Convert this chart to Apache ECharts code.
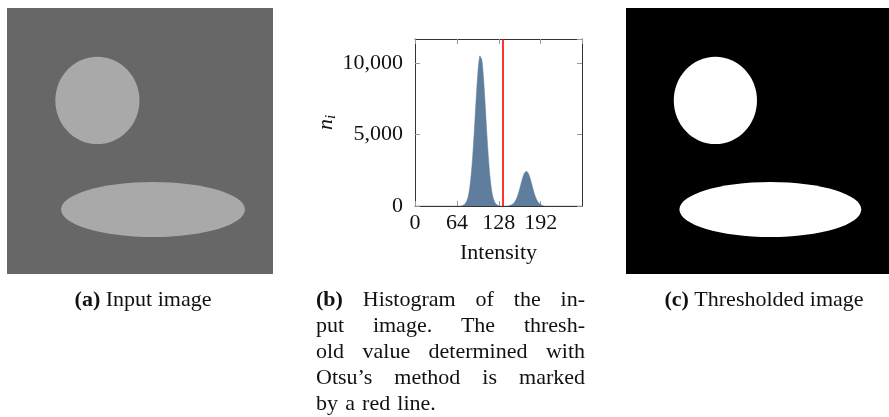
<!DOCTYPE html>
<html>
<head>
<meta charset="utf-8">
<script src="https://cdn.jsdelivr.net/npm/echarts@6/dist/echarts.min.js"></script>
<style>
  html, body { margin: 0; padding: 0; background: #fff; }
  #main { width: 889px; height: 417px; }
</style>
</head>
<body>
<div id="main"></div>
<script>
// ---- data ----
// histogram (b): counts n_i per intensity, zero outside the two peaks
var peakLowStart = 72;
var peakLowCounts = [20, 40, 50, 80, 120, 170, 240, 340, 470, 630, 840, 1110, 1430, 1830, 2290,
  2830, 3440, 4120, 4850, 5630, 6430, 7230, 8000, 8720, 9350, 9880, 10270, 10520, 10600,
  10520, 10270, 9880, 9350, 8720, 8000, 7230, 6430, 5630, 4850, 4120, 3440, 2830, 2290,
  1830, 1430, 1110, 840, 630, 470, 340, 240, 170, 120, 80, 50, 40, 20];
var peakHighStart = 144;
var peakHighCounts = [20, 30, 50, 60, 90, 120, 150, 200, 260, 330, 420, 520, 630, 760, 900,
  1060, 1230, 1400, 1570, 1750, 1910, 2060, 2190, 2300, 2380, 2430, 2450, 2430, 2380, 2300,
  2190, 2060, 1910, 1750, 1570, 1400, 1230, 1060, 900, 760, 630, 520, 420, 330, 260, 200,
  150, 120, 90, 60, 50, 30, 20];
var otsuThreshold = 134;
var xTicks = [0, 64, 128, 192];
var yTicks = [0, 5000, 10000];

// images (a) and (c): shapes in image pixel coordinates (512 x 512)
var shapeCx = [174, 281];
var shapeCy = [178, 388];
var shapeRx = [81, 177];
var shapeRy = [84, 53];

var captionA = ['(a)', 'Input image'];
var captionC = ['(c)', 'Thresholded image'];
var captionB = [
  ['(b)', 'Histogram', 'of', 'the', 'in-'],
  ['put', 'image.', 'The', 'thresh-'],
  ['old', 'value', 'determined', 'with'],
  ['Otsu\u2019s', 'method', 'is', 'marked'],
  ['by', 'a', 'red', 'line.']
];

var FONT = '"Liberation Serif", "DejaVu Serif", serif';
var FS = 22;

var histData = [];
for (var i = 0; i <= 255; i++) {
  var v = 0;
  if (i >= peakLowStart && i < peakLowStart + peakLowCounts.length) v = peakLowCounts[i - peakLowStart];
  if (i >= peakHighStart && i < peakHighStart + peakHighCounts.length) v = peakHighCounts[i - peakHighStart];
  histData.push([i, v]);
}

var shapeData = shapeCx.map(function (cx, k) {
  return [cx, shapeCy[k], shapeRx[k], shapeRy[k]];
});

function renderShape(fill) {
  return function (params, api) {
    var c = api.coord([api.value(0), api.value(1)]);
    var s = api.size([api.value(2), api.value(3)]);
    return {
      type: 'ellipse',
      shape: { cx: c[0], cy: c[1], rx: Math.abs(s[0]), ry: Math.abs(s[1]) },
      style: { fill: fill }
    };
  };
}

// captions
var ctx = document.createElement('canvas').getContext('2d');
function textWidth(t, bold) {
  ctx.font = (bold ? 'bold ' : '') + FS + 'px ' + FONT;
  return ctx.measureText(t).width;
}

var graphics = [];
function simpleCaption(parts, cx, y) {
  graphics.push({
    type: 'text', x: cx, y: y, silent: true,
    style: {
      text: '{b|' + parts[0] + '}{t| ' + parts[1] + '}',
      rich: {
        b: { fontFamily: FONT, fontSize: FS, fontWeight: 'bold', fill: '#111' },
        t: { fontFamily: FONT, fontSize: FS, fill: '#111' }
      },
      fontFamily: FONT, fontSize: FS, fill: '#111',
      align: 'center', verticalAlign: 'middle'
    }
  });
}
simpleCaption(captionA, 143, 300);
simpleCaption(captionC, 764, 300);

var colLeft = 316, colWidth = 269, lineY0 = 300, lineStep = 26;
captionB.forEach(function (words, li) {
  var widths = words.map(function (w, wi) { return textWidth(w, li === 0 && wi === 0); });
  var total = widths.reduce(function (a, b) { return a + b; }, 0);
  var last = li === captionB.length - 1;
  var gap = last ? textWidth(' ') * 1.3 : (colWidth - total) / (words.length - 1);
  var x = colLeft;
  words.forEach(function (w, wi) {
    graphics.push({
      type: 'text', x: x, y: lineY0 + li * lineStep, silent: true,
      style: {
        text: w, fontFamily: FONT, fontSize: FS,
        fontWeight: (li === 0 && wi === 0) ? 'bold' : 'normal',
        fill: '#111', align: 'left', verticalAlign: 'middle'
      }
    });
    x += widths[wi] + gap;
  });
});

var chart = echarts.init(document.getElementById('main'));
var hiddenAxis = { show: false, type: 'value', min: 0, max: 512 };
var boxLine = { show: true, onZero: false, lineStyle: { color: '#333', width: 1 } };
var boxTick = { show: true, inside: true, length: 5, lineStyle: { color: '#999' } };
var option = {
  animation: false,
  backgroundColor: '#fff',
  grid: [
    { left: 7, top: 8, width: 266, height: 266, show: true, backgroundColor: '#676767', borderWidth: 0 },
    { left: 415, top: 39, width: 167, height: 167 },
    { left: 626, top: 8, width: 266, height: 266, show: true, backgroundColor: '#000', borderWidth: 0 }
  ],
  xAxis: [
    Object.assign({ gridIndex: 0 }, hiddenAxis),
    {
      gridIndex: 1, type: 'value', position: 'bottom', min: 0, max: 255, interval: 64,
      name: 'Intensity', nameLocation: 'middle', nameGap: 36,
      nameTextStyle: { fontFamily: FONT, fontSize: FS, color: '#111' },
      axisLine: boxLine, axisTick: boxTick,
      axisLabel: {
        fontFamily: FONT, fontSize: FS, color: '#111', margin: 6, showMaxLabel: false,
        formatter: function (v) { return xTicks.indexOf(v) >= 0 ? String(v) : ''; }
      },
      splitLine: { show: false }
    },
    {
      gridIndex: 1, type: 'value', position: 'top', min: 0, max: 255, interval: 64,
      axisLine: boxLine, axisTick: boxTick,
      axisLabel: { show: false }, splitLine: { show: false }
    },
    Object.assign({ gridIndex: 2 }, hiddenAxis)
  ],
  yAxis: [
    Object.assign({ gridIndex: 0, inverse: true }, hiddenAxis),
    {
      gridIndex: 1, type: 'value', position: 'left', min: 0, max: 11700, interval: 5000,
      name: '{n|n}{i|i}', nameLocation: 'middle', nameGap: 70, nameRotate: 90,
      nameTextStyle: {
        rich: {
          n: { fontFamily: FONT, fontSize: FS, fontStyle: 'italic', color: '#111', lineHeight: 24, verticalAlign: 'middle' },
          i: { fontFamily: FONT, fontSize: 15, fontStyle: 'italic', color: '#111', lineHeight: 24, verticalAlign: 'bottom', padding: [8, 0, 0, 0] }
        }
      },
      axisLine: boxLine, axisTick: boxTick,
      axisLabel: {
        fontFamily: FONT, fontSize: FS, color: '#111', margin: 12, showMaxLabel: false,
        formatter: function (v) {
          return yTicks.indexOf(v) >= 0 ? String(v).replace(/\B(?=(\d{3})+(?!\d))/g, ',') : '';
        }
      },
      splitLine: { show: false }
    },
    {
      gridIndex: 1, type: 'value', position: 'right', min: 0, max: 11700, interval: 5000,
      axisLine: boxLine, axisTick: boxTick,
      axisLabel: { show: false }, splitLine: { show: false }
    },
    Object.assign({ gridIndex: 2, inverse: true }, hiddenAxis)
  ],
  series: [
    {
      type: 'custom', xAxisIndex: 0, yAxisIndex: 0, silent: true,
      renderItem: renderShape('#a9a9a9'), data: shapeData
    },
    {
      type: 'line', xAxisIndex: 1, yAxisIndex: 1, silent: true,
      data: histData, symbol: 'none',
      lineStyle: { color: '#5f7e9e', width: 0.5 },
      areaStyle: { color: '#5f7e9e', opacity: 1 },
      markLine: {
        silent: true, symbol: 'none', label: { show: false },
        lineStyle: { color: '#ff0000', width: 1.6, type: 'solid' },
        data: [{ xAxis: otsuThreshold }]
      }
    },
    {
      type: 'custom', xAxisIndex: 3, yAxisIndex: 3, silent: true,
      renderItem: renderShape('#ffffff'), data: shapeData
    }
  ],
  graphic: graphics
};
chart.setOption(option);
</script>
</body>
</html>
